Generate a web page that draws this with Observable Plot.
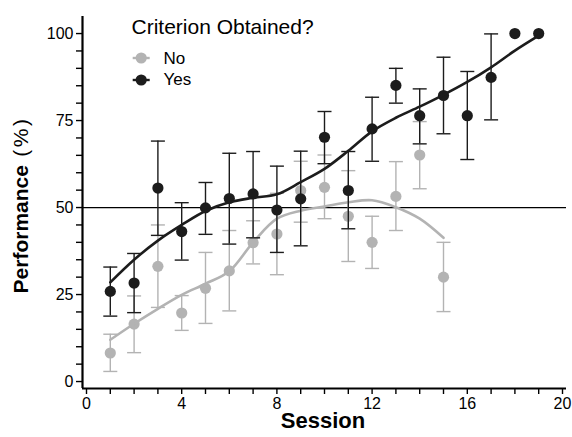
<!DOCTYPE html>
<html><head><meta charset="utf-8">
<script src="https://cdn.jsdelivr.net/npm/d3@7"></script>
<script src="https://cdn.jsdelivr.net/npm/@observablehq/plot@0.6"></script>
<style>body{margin:0;background:#fff} svg{display:block}</style>
</head><body><div id="chart"></div>
<script>
// ---- data ----
const sessionsYes = [1,2,3,4,5,6,7,8,9,10,11,12,13,14,15,16,17,18,19];
const perfYes = [25.9,28.3,55.6,43.1,49.9,52.6,53.9,49.3,52.5,70.2,54.9,72.6,85.1,76.4,82.2,76.4,87.4,100,100];
const lowYes  = [18.8,19.8,42.0,34.9,42.3,39.5,41.3,37.1,39.0,62.6,43.9,63.3,80.0,68.3,71.2,63.8,75.2,null,null];
const highYes = [32.9,36.8,69.1,51.4,57.2,65.6,66.1,61.9,66.2,77.6,66.1,81.7,90.0,84.1,93.2,89.1,99.9,null,null];

const sessionsNo = [1,2,3,4,5,6,7,8,9,10,11,12,13,14,15];
const perfNo = [8.2,16.5,33.1,19.7,26.8,31.8,39.9,42.4,54.9,55.8,47.5,40.0,53.2,65.1,30.0];
const lowNo  = [2.9,8.3,21.3,14.7,16.7,20.3,33.8,30.7,45.8,46.8,34.5,32.5,43.4,55.4,20.1];
const highNo = [13.6,24.6,45.0,24.7,37.1,43.4,46.2,54.1,63.3,65.1,60.6,47.5,63.2,74.7,40.0];

// smoothed trend lines
const smoothSessionsYes = [1,2,3,4,5,6,7,8,9,10,11,12,13,14,15,16,17,18,19];
const smoothYes = [28.5,35,40.5,45,49,51.5,52.8,53.8,57.3,61.1,66.3,71.9,75.8,79,82.4,86.1,90.3,95.1,99.4];
const smoothSessionsNo = [1,2,3,4,5,6,7,8,9,10,11,12,13,14,15];
const smoothNo = [12,16.6,20.9,24.9,28.1,31.7,40,46.8,49.1,50.3,51.5,52.1,50.1,46.8,41.3];

const groups = ["No", "Yes"];
const groupColors = ["#b3b3b3", "#1c1c1c"];
const refLine = [50];
const xTicks = d3.range(0, 21, 1);
const yTicks = d3.range(0, 101, 5);
const legendTitle = "Criterion Obtained?";

// ---- tables ----
const pts = (s, p, lo, hi, g) => s.map((d, i) => ({session: d, perf: p[i], low: lo[i], high: hi[i], group: g}));
const ptsNo = pts(sessionsNo, perfNo, lowNo, highNo, "No");
const ptsYes = pts(sessionsYes, perfYes, lowYes, highYes, "Yes");
const errNo = ptsNo.filter(d => d.low != null);
const errYes = ptsYes.filter(d => d.low != null);
const smNo = smoothSessionsNo.map((s, i) => ({session: s, perf: smoothNo[i]}));
const smYes = smoothSessionsYes.map((s, i) => ({session: s, perf: smoothYes[i]}));

const hbar = {draw(context, size) { const r = Math.sqrt(size / Math.PI); context.moveTo(-r, 0); context.lineTo(r, 0); }};
const FONT = "Liberation Sans, Arial, Helvetica, sans-serif";
const xDom = [-0.168, 20.168];
const yDom = [-2.0, 104.9];

const errMarks = (data, color) => [
  Plot.ruleX(data, {x: "session", y1: "low", y2: "high", stroke: color, strokeWidth: 1.4}),
  Plot.dot(data, {x: "session", y: "low", symbol: hbar, r: 7, stroke: color, strokeWidth: 1.4, fill: "none"}),
  Plot.dot(data, {x: "session", y: "high", symbol: hbar, r: 7, stroke: color, strokeWidth: 1.4, fill: "none"})
];

const svg = Plot.plot({
  width: 572, height: 437,
  marginLeft: 82, marginRight: 6, marginTop: 16, marginBottom: 49,
  style: {fontFamily: FONT, color: "#000", background: "#fff"},
  x: {domain: xDom},
  y: {domain: yDom},
  marks: [
    Plot.ruleY(refLine, {y: d => d, stroke: "#000", strokeWidth: 1.2}),
    ...errMarks(errNo, groupColors[0]),
    Plot.dot(ptsNo, {x: "session", y: "perf", r: 5.6, fill: groupColors[0]}),
    Plot.line(smNo, {x: "session", y: "perf", stroke: groupColors[0], strokeWidth: 2.6, curve: "catmull-rom"}),
    ...errMarks(errYes, groupColors[1]),
    Plot.dot(ptsYes, {x: "session", y: "perf", r: 5.6, fill: groupColors[1]}),
    Plot.line(smYes, {x: "session", y: "perf", stroke: groupColors[1], strokeWidth: 2.6, curve: "catmull-rom"}),
    // axes
    Plot.axisX({ticks: xTicks, tickFormat: d => d % 4 === 0 ? d : "", tickSize: 6, tickPadding: 3, fontSize: 16, label: null, strokeWidth: 1.4}),
    Plot.axisY({ticks: yTicks, tickFormat: d => d % 25 === 0 ? d : "", tickSize: 6, tickPadding: 3, fontSize: 16, label: null, strokeWidth: 1.4}),
    Plot.ruleX([xDom[0]], {stroke: "#000", strokeWidth: 2.2}),
    Plot.ruleY([yDom[0]], {stroke: "#000", strokeWidth: 2.2}),
    // legend
    Plot.text([legendTitle], {frameAnchor: "top-left", lineAnchor: "middle", dx: 49, dy: 11, textAnchor: "start", fontSize: 21, fill: "#000"}),
    Plot.dot([groups[0]], {frameAnchor: "top-left", dx: 58.7, dy: 41.5, symbol: hbar, r: 8.5, stroke: groupColors[0], strokeWidth: 2.4}),
    Plot.dot([groups[0]], {frameAnchor: "top-left", dx: 58.7, dy: 41.5, r: 5.6, fill: groupColors[0]}),
    Plot.text([groups[0]], {frameAnchor: "top-left", lineAnchor: "middle", dx: 81, dy: 42, textAnchor: "start", fontSize: 17, fill: "#000"}),
    Plot.dot([groups[1]], {frameAnchor: "top-left", dx: 58.7, dy: 63.5, symbol: hbar, r: 8.5, stroke: groupColors[1], strokeWidth: 2.4}),
    Plot.dot([groups[1]], {frameAnchor: "top-left", dx: 58.7, dy: 63.5, r: 5.6, fill: groupColors[1]}),
    Plot.text([groups[1]], {frameAnchor: "top-left", lineAnchor: "middle", dx: 81, dy: 63.5, textAnchor: "start", fontSize: 17, fill: "#000"})
  ]
});

// axis titles
const s = d3.select(svg);
s.append("text")
  .attr("x", 323).attr("y", 428)
  .attr("text-anchor", "middle")
  .attr("font-family", FONT).attr("font-size", 22).attr("font-weight", "bold")
  .text("Session");
const yt = s.append("text")
  .attr("transform", "translate(28,205) rotate(-90)")
  .attr("text-anchor", "middle")
  .attr("font-family", FONT).attr("font-size", 21);
yt.append("tspan").attr("font-weight", "bold").text("Performance");
yt.append("tspan").attr("letter-spacing", "2.5").text(" (%)");

document.getElementById("chart").appendChild(svg);
</script>
</body></html>
